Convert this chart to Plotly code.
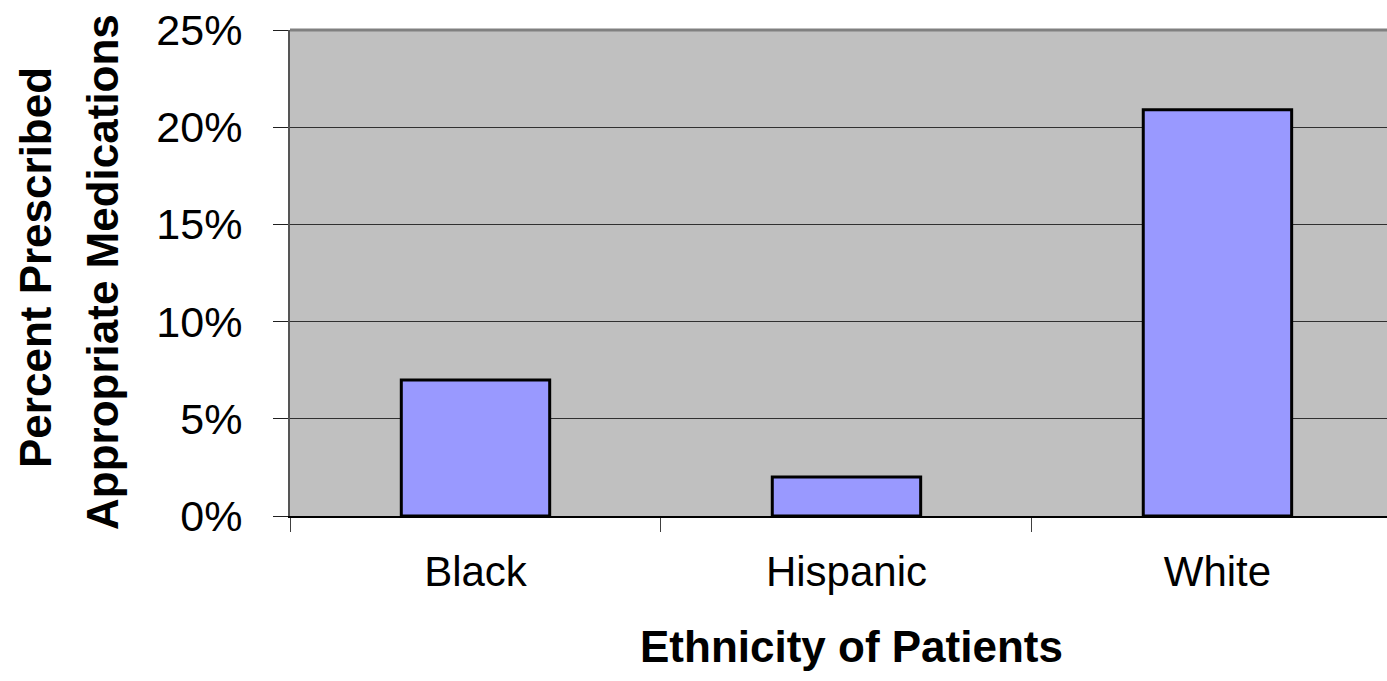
import plotly.graph_objects as go

# Share of patients prescribed appropriate medications, by ethnicity
ethnicities = ["Black", "Hispanic", "White"]
pct_prescribed = [7.0, 2.0, 20.9]
y_ticks = [0, 5, 10, 15, 20, 25]
y_tick_text = ["0%", "5%", "10%", "15%", "20%", "25%"]

FONT = "Arial, Liberation Sans, Helvetica, sans-serif"

W, H = 1387, 681
L, R, T, B = 290, 0, 30, 165
plot_w = W - L - R
plot_h = H - T - B


def px_to_paper_x(px):
    return (px - L) / plot_w


def px_to_paper_y(py):
    return (H - B - py) / plot_h


fig = go.Figure(
    go.Bar(
        x=ethnicities,
        y=pct_prescribed,
        width=0.4,
        marker=dict(color="#9999FF", line=dict(color="#000000", width=3)),
        hoverinfo="x+y",
    )
)

fig.update_layout(
    width=W,
    height=H,
    margin=dict(l=L, r=R, t=T, b=B, pad=0),
    paper_bgcolor="#FFFFFF",
    plot_bgcolor="#C0C0C0",
    showlegend=False,
    font=dict(family=FONT, color="#000000"),
    xaxis=dict(
        type="category",
        range=[-0.5, 2.457],
        tickson="boundaries",
        ticks="outside",
        ticklen=14,
        tickwidth=1,
        tickcolor="#404040",
        showgrid=False,
        showline=True,
        linecolor="#000000",
        linewidth=2,
        tickfont=dict(size=42, family=FONT),
        ticklabelstandoff=18,
        zeroline=False,
    ),
    yaxis=dict(
        range=[0, 25],
        tickvals=y_ticks,
        ticktext=y_tick_text,
        ticks="outside",
        ticklen=15,
        tickwidth=1,
        tickcolor="#202020",
        showgrid=True,
        gridcolor="#303030",
        gridwidth=1,
        showline=True,
        linecolor="#555555",
        linewidth=2,
        tickfont=dict(size=43, family=FONT),
        ticklabelstandoff=22,
        zeroline=False,
    ),
    shapes=[
        dict(
            type="line", xref="paper", yref="paper",
            x0=0, x1=1, y0=1, y1=1,
            line=dict(color="#808080", width=3),
        )
    ],
    annotations=[
        dict(
            text="<b>Ethnicity of Patients</b>",
            xref="paper", yref="paper",
            x=px_to_paper_x(851), y=px_to_paper_y(646),
            xanchor="center", yanchor="middle",
            showarrow=False,
            font=dict(size=44, family=FONT),
        ),
        dict(
            text="<b>Percent Prescribed</b>",
            xref="paper", yref="paper",
            x=px_to_paper_x(35), y=px_to_paper_y(268),
            xanchor="center", yanchor="middle",
            textangle=-90,
            showarrow=False,
            font=dict(size=44, family=FONT),
        ),
        dict(
            text="<b>Appropriate Medications</b>",
            xref="paper", yref="paper",
            x=px_to_paper_x(102), y=px_to_paper_y(272),
            xanchor="center", yanchor="middle",
            textangle=-90,
            showarrow=False,
            font=dict(size=44, family=FONT),
        ),
    ],
)

fig.write_html("out.html", config={"displayModeBar": False})
